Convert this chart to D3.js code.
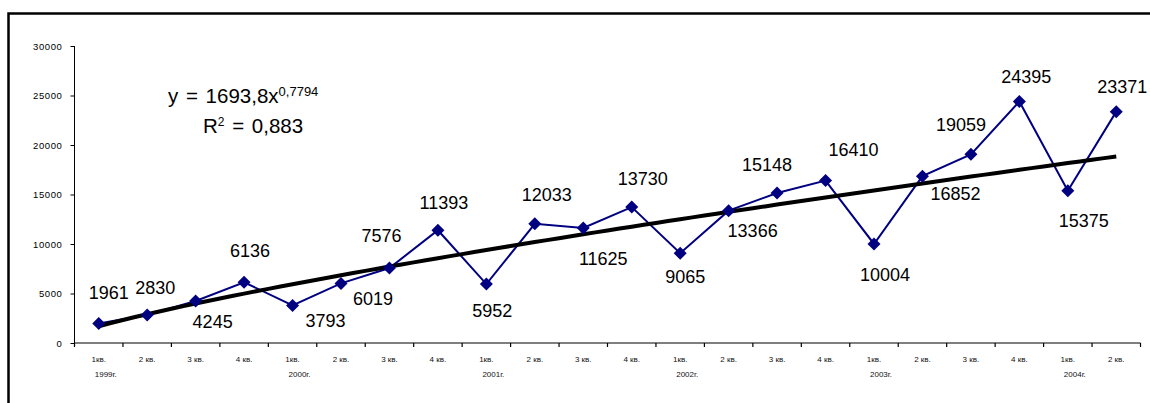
<!DOCTYPE html>
<html>
<head>
<meta charset="utf-8">
<script src="https://cdn.jsdelivr.net/npm/d3@7"></script>
<style>
  html, body { margin: 0; padding: 0; background: #fff; }
  svg { display: block; font-family: "Liberation Sans", Arial, sans-serif; }
</style>
</head>
<body>
<svg id="chart" width="1150" height="403"></svg>
<script>
// ---- data ----
const quarters = ["1кв.", "2 кв.", "3 кв.", "4 кв.",
                  "1кв.", "2 кв.", "3 кв.", "4 кв.",
                  "1кв.", "2 кв.", "3 кв.", "4 кв.",
                  "1кв.", "2 кв.", "3 кв.", "4 кв.",
                  "1кв.", "2 кв.", "3 кв.", "4 кв.",
                  "1кв.", "2 кв."];
const years = ["1999г.", "2000г.", "2001г.", "2002г.", "2003г.", "2004г."];
const values = [1961, 2830, 4245, 6136, 3793, 6019, 7576, 11393, 5952, 12033, 11625,
                13730, 9065, 13366, 15148, 16410, 10004, 16852, 19059, 24395, 15375, 23371];
const yTicks = [0, 5000, 10000, 15000, 20000, 25000, 30000];
// power trendline shown on the chart: y = a * x^b
const trendA = 1693.8;
const trendB = 0.7794;
const trendR2 = "0,883";

// ---- label placement (layout, pixels relative to marker) ----
const labelOffsets = [
  [10, -25], [8, -21], [17, 27], [6, -25], [33, 22], [32, 22], [-8, -26], [6, -21],
  [6, 33], [12, -23], [20, 37], [11, -22], [5, 30], [24, 26], [-10, -22], [28, -25],
  [11, 37], [33, 24], [-10, -23], [7, -18], [16, 36], [6, -19]
];

const svg = d3.select("#chart");

// frame
svg.append("rect")
  .attr("x", 8.5).attr("y", 13.5)
  .attr("width", 1160).attr("height", 400)
  .attr("fill", "none").attr("stroke", "#000").attr("stroke-width", 2.5);

const idx = d3.range(values.length);
const x = d3.scaleBand().domain(idx).range([74.5, 1140.5]).padding(0);
const y = d3.scaleLinear().domain([0, 30000]).range([343, 46]);
const cx = i => x(i) + x.bandwidth() / 2;

// y axis
const yAxis = svg.append("g")
  .attr("transform", "translate(74.5,0)")
  .call(d3.axisLeft(y).tickValues(yTicks).tickSize(4).tickPadding(8).tickFormat(d3.format("d")));
yAxis.select(".domain").attr("stroke", "#000").attr("d", `M0,${y(30000)}V${y(0)}`);
yAxis.selectAll(".tick line").attr("stroke", "#000");
yAxis.selectAll(".tick text")
  .attr("font-family", "Liberation Sans, Arial, sans-serif")
  .attr("font-size", 9.5).attr("letter-spacing", 0.6).attr("fill", "#000");

// x axis (ticks at category boundaries)
const xg = svg.append("g");
xg.append("line")
  .attr("x1", x(0)).attr("x2", x(values.length - 1) + x.bandwidth())
  .attr("y1", y(0)).attr("y2", y(0))
  .attr("stroke", "#000").attr("stroke-width", 1.2);
const bounds = idx.map(i => x(i)).concat([x(values.length - 1) + x.bandwidth()]);
xg.selectAll("line.tk").data(bounds).join("line").attr("class", "tk")
  .attr("x1", d => d).attr("x2", d => d)
  .attr("y1", y(0)).attr("y2", y(0) + 4)
  .attr("stroke", "#000").attr("stroke-width", 1.2);
xg.selectAll("text.q").data(quarters).join("text").attr("class", "q")
  .attr("x", (d, i) => cx(i)).attr("y", 362)
  .attr("text-anchor", "middle").attr("font-size", 8).attr("fill", "#111")
  .text(d => d);
xg.selectAll("text.yr").data(years).join("text").attr("class", "yr")
  .attr("x", (d, i) => cx(i * 4) + 7).attr("y", 377)
  .attr("text-anchor", "middle").attr("font-size", 8).attr("fill", "#111")
  .text(d => d);

// series line
const line = d3.line().x((d, i) => cx(i)).y(d => y(d));
svg.append("path").datum(values)
  .attr("d", line).attr("fill", "none")
  .attr("stroke", "#000080").attr("stroke-width", 2);

// trendline from displayed equation
const tx = d3.scaleLinear().domain([1, values.length]).range([cx(0), cx(values.length - 1)]);
const trendPts = d3.range(1, values.length + 0.001, 0.25).map(t => [t, trendA * Math.pow(t, trendB)]);
svg.append("path").datum(trendPts)
  .attr("d", d3.line().x(d => tx(d[0])).y(d => y(d[1])))
  .attr("fill", "none").attr("stroke", "#000").attr("stroke-width", 4)
  .attr("stroke-linejoin", "round");

// markers
svg.selectAll("path.mk").data(values).join("path").attr("class", "mk")
  .attr("transform", (d, i) => `translate(${cx(i)},${y(d)})`)
  .attr("d", "M0,-6.5L6.5,0L0,6.5L-6.5,0Z")
  .attr("fill", "#000080");

// data labels
svg.selectAll("text.lbl").data(values).join("text").attr("class", "lbl")
  .attr("x", (d, i) => cx(i) + labelOffsets[i][0])
  .attr("y", (d, i) => y(d) + labelOffsets[i][1])
  .attr("text-anchor", "middle").attr("font-size", 18).attr("fill", "#000")
  .text(d => d);

// equation
const eq = svg.append("g").attr("font-size", 20.5).attr("fill", "#000");
const t1 = eq.append("text").attr("x", 168).attr("y", 103).attr("word-spacing", 2);
t1.append("tspan").text("y = 1693,8x");
t1.append("tspan").attr("dy", -7).attr("font-size", 13).attr("word-spacing", 0).text(String(trendB).replace(".", ","));
const t2 = eq.append("text").attr("x", 203).attr("y", 133).attr("word-spacing", 2);
t2.append("tspan").text("R");
t2.append("tspan").attr("dy", -7).attr("font-size", 12).text("2");
t2.append("tspan").attr("dy", 7).text(" = " + trendR2);
</script>
</body>
</html>
